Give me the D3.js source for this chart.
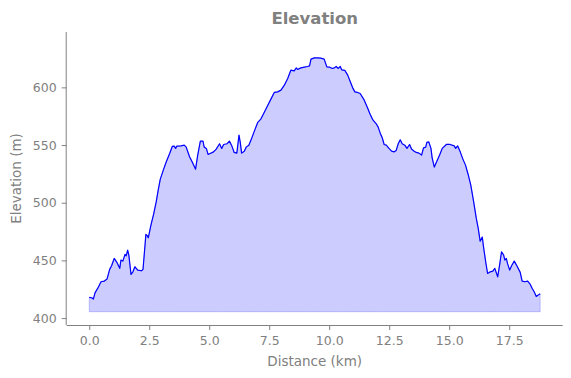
<!DOCTYPE html>
<html>
<head>
<meta charset="utf-8">
<script src="https://cdn.jsdelivr.net/npm/d3@7"></script>
<style>
  body { margin: 0; background: #fff; }
  text { font-family: "DejaVu Sans", sans-serif; }
</style>
</head>
<body>
<svg id="chart" width="571" height="378"></svg>
<script>
// Distance along route (km)
const distanceKm = [
  0.00, 0.10, 0.17, 0.24, 0.35, 0.49, 0.63, 0.74, 0.85, 0.93,
  1.04, 1.15, 1.27, 1.32, 1.40, 1.49, 1.54, 1.60, 1.65, 1.74,
  1.82, 1.90, 2.02, 2.18, 2.24, 2.36, 2.40, 2.46, 2.57, 2.68,
  2.79, 2.88, 2.96, 3.10, 3.21, 3.35, 3.46, 3.54, 3.60, 3.65,
  3.82, 3.96, 4.04, 4.18, 4.32, 4.43, 4.52, 4.63, 4.74, 4.79,
  4.88, 4.95, 5.04, 5.18, 5.29, 5.43, 5.52, 5.60, 5.74, 5.84,
  5.93, 6.04, 6.15, 6.24, 6.29, 6.35, 6.46, 6.54, 6.65, 6.74,
  6.88, 7.02, 7.15, 7.29, 7.43, 7.57, 7.71, 7.85, 7.99, 8.13,
  8.27, 8.40, 8.54, 8.63, 8.68, 8.82, 8.96, 9.10, 9.18, 9.24,
  9.38, 9.52, 9.65, 9.79, 9.90, 10.02, 10.13, 10.21, 10.29, 10.38,
  10.46, 10.52, 10.65, 10.77, 10.88, 10.99, 11.07, 11.18, 11.29, 11.46,
  11.60, 11.71, 11.82, 11.96, 12.04, 12.13, 12.21, 12.29, 12.38, 12.49,
  12.60, 12.71, 12.79, 12.88, 12.96, 13.04, 13.15, 13.24, 13.35, 13.43,
  13.54, 13.63, 13.74, 13.85, 13.93, 14.02, 14.07, 14.15, 14.24, 14.29,
  14.38, 14.49, 14.60, 14.71, 14.88, 15.04, 15.21, 15.27, 15.35, 15.46,
  15.57, 15.68, 15.79, 15.90, 16.02, 16.13, 16.21, 16.29, 16.38, 16.43,
  16.52, 16.60, 16.71, 16.82, 16.90, 17.02, 17.10, 17.18, 17.27, 17.32,
  17.38, 17.43, 17.52, 17.60, 17.71, 17.82, 17.96, 18.04, 18.15, 18.27,
  18.38, 18.46, 18.54, 18.63, 18.71, 18.79
];
// Elevation (m)
const elevationM = [
  417.9, 417.6, 416.5, 421.9, 425.7, 431.5, 432.1, 433.8, 442.2, 445.3,
  451.7, 448.3, 443.1, 450.3, 449.4, 455.2, 454.0, 458.9, 454.6, 437.9,
  440.1, 444.5, 441.6, 441.0, 442.2, 472.5, 471.9, 469.6, 480.6, 489.9,
  500.8, 511.8, 520.5, 529.1, 535.5, 542.7, 548.8, 549.1, 547.1, 549.1,
  549.3, 549.9, 548.2, 539.8, 534.1, 529.1, 541.3, 553.4, 553.4, 548.2,
  547.1, 541.9, 542.7, 544.1, 546.5, 551.1, 547.1, 550.5, 551.1, 553.4,
  549.9, 543.6, 543.0, 558.6, 552.8, 543.0, 544.7, 548.2, 549.9, 554.3,
  562.1, 569.6, 572.5, 578.3, 584.0, 589.8, 595.6, 596.1, 597.6, 601.9,
  607.7, 614.9, 614.3, 616.9, 615.5, 616.9, 617.5, 618.1, 618.6, 624.5,
  625.6, 625.6, 625.3, 624.5, 617.8, 617.5, 616.4, 616.9, 618.1, 616.4,
  618.1, 615.2, 614.7, 610.6, 604.8, 599.1, 596.1, 595.6, 594.7, 588.9,
  582.2, 576.5, 571.8, 568.4, 565.5, 560.1, 556.3, 550.5, 549.9, 547.1,
  544.7, 544.1, 545.3, 551.4, 554.5, 551.1, 549.9, 547.1, 550.5, 546.5,
  544.7, 543.6, 543.0, 541.3, 547.6, 548.2, 552.3, 552.8, 547.1, 538.9,
  530.9, 536.1, 541.3, 547.1, 550.5, 550.5, 549.3, 547.1, 549.3, 544.1,
  537.8, 532.6, 524.5, 515.3, 500.8, 486.4, 477.7, 466.7, 470.2, 461.8,
  448.8, 438.7, 440.1, 440.7, 443.1, 435.8, 445.9, 457.5, 454.6, 450.3,
  451.7, 447.4, 441.6, 445.3, 449.4, 445.3, 439.6, 432.1, 431.5, 432.1,
  429.2, 425.7, 422.8, 418.8, 419.9, 421.1
];
const fillBase = 405.5;
const xTicks = [0, 2.5, 5, 7.5, 10, 12.5, 15, 17.5];
const yTicks = [400, 450, 500, 550, 600];
const xDomain = [-0.94, 19.73];
const yDomain = [394, 648];

const data = distanceKm.map((d, i) => ({ x: d, y: elevationM[i] }));

const W = 571, H = 378;
const m = { left: 66.7, right: W - 562.7, top: 32, bottom: H - 325 };
const gray = "#808080";

const svg = d3.select("#chart");
const x = d3.scaleLinear().domain(xDomain).range([m.left, W - m.right]);
const y = d3.scaleLinear().domain(yDomain).range([H - m.bottom, m.top]);

// Area
const area = d3.area().x(d => x(d.x)).y0(y(fillBase)).y1(d => y(d.y));
svg.append("path").datum(data)
  .attr("d", area)
  .attr("fill", "rgba(0,0,255,0.2)")
  .attr("stroke", "rgba(0,0,255,0.2)")
  .attr("stroke-width", 1);

// Line
const line = d3.line().x(d => x(d.x)).y(d => y(d.y));
svg.append("path").datum(data)
  .attr("d", line)
  .attr("fill", "none")
  .attr("stroke", "blue")
  .attr("stroke-width", 1.2)
  .attr("stroke-linejoin", "round");

// Axes
const xAxis = d3.axisBottom(x).tickValues(xTicks).tickFormat(d3.format(".1f")).tickSize(5).tickPadding(6).tickSizeOuter(0);
const gx = svg.append("g").attr("transform", `translate(0,${H - m.bottom})`).call(xAxis);
const yAxis = d3.axisLeft(y).tickValues(yTicks).tickFormat(d3.format("d")).tickSize(5).tickPadding(5).tickSizeOuter(0);
const gy = svg.append("g").attr("transform", `translate(${m.left},0)`).call(yAxis);

[gx, gy].forEach(g => {
  g.select(".domain").attr("stroke", gray).attr("stroke-width", 1);
  g.selectAll(".tick line").attr("stroke", gray).attr("stroke-width", 1);
  g.selectAll(".tick text").attr("fill", gray).style("font-size", "12.5px").style("font-family", "DejaVu Sans");
});
// full-length spines
gx.select(".domain").attr("d", `M${m.left},0.5H${W - m.right}`);
gy.select(".domain").attr("d", `M-0.5,${m.top}V${H - m.bottom}`);

// Title and labels
svg.append("text").attr("x", (m.left + W - m.right) / 2).attr("y", 24)
  .attr("text-anchor", "middle").attr("fill", gray)
  .style("font-size", "16.5px").style("font-weight", "bold").text("Elevation");
svg.append("text").attr("x", (m.left + W - m.right) / 2).attr("y", 366)
  .attr("text-anchor", "middle").attr("fill", gray)
  .style("font-size", "13.5px").text("Distance (km)");
svg.append("text").attr("transform", `translate(21,${(m.top + H - m.bottom) / 2}) rotate(-90)`)
  .attr("text-anchor", "middle").attr("fill", gray)
  .style("font-size", "13.5px").text("Elevation (m)");
</script>
</body>
</html>
